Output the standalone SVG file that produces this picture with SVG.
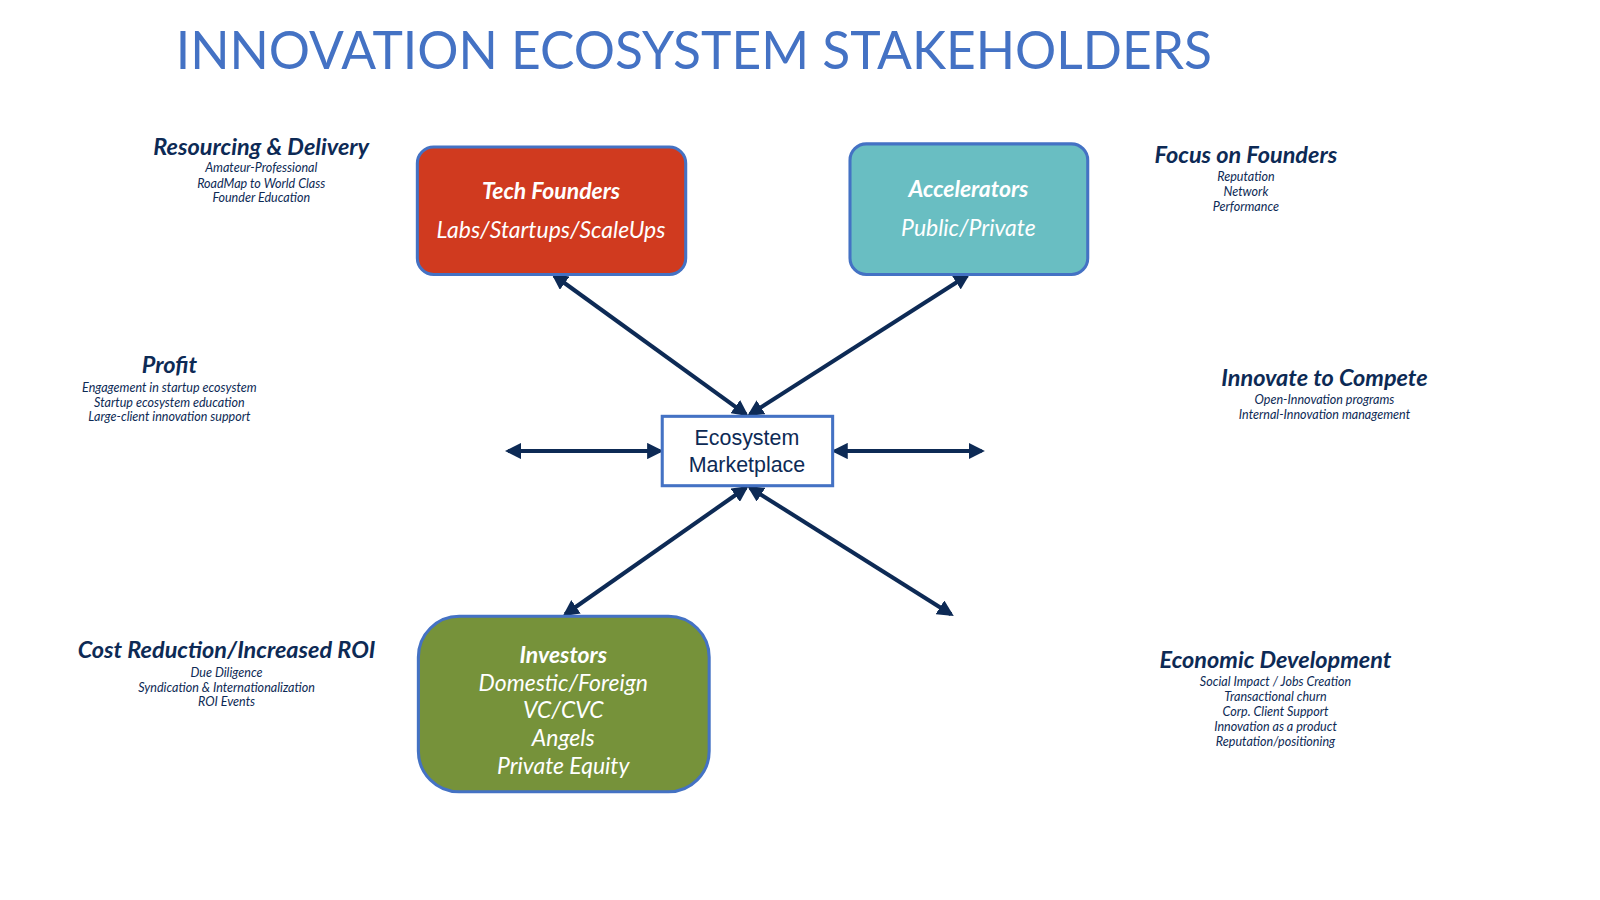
<svg xmlns="http://www.w3.org/2000/svg" width="1600" height="900" viewBox="0 0 1600 900">
<style>
.h{font-family:Lato,"Open Sans",sans-serif;font-style:italic;font-weight:bold;fill:#0d2a55;text-anchor:middle;font-size:23px}
.s{font-family:Lato,"Open Sans",sans-serif;font-style:italic;fill:#0d2a55;text-anchor:middle;font-size:12.3px}
.w{font-family:Lato,"Open Sans",sans-serif;font-style:italic;fill:#fff;text-anchor:middle;font-size:22.5px}
.box{stroke:#4472c4;stroke-width:3}
.c{stroke:#0d2a55;stroke-width:4;fill:none;marker-start:url(#a);marker-end:url(#a)}
</style>
<defs><marker id="a" viewBox="0 0 10 10" refX="8" refY="5" markerWidth="4" markerHeight="4" orient="auto-start-reverse"><path d="M0,0L10,5L0,10z" fill="#0d2a55"/></marker></defs>
<rect width="1600" height="900" fill="#fff"/>
<g transform="scale(1.0204)">
<text x="680" y="68" font-family="Lato,'Open Sans',sans-serif" font-size="50.5" fill="#4472c4" text-anchor="middle">INNOVATION ECOSYSTEM STAKEHOLDERS</text>
<g id="connectors">
<line class="c" x1="543" y1="270" x2="731" y2="406"/>
<line class="c" x1="948" y1="270" x2="735" y2="406"/>
<line class="c" x1="498" y1="442" x2="647" y2="442"/>
<line class="c" x1="818" y1="442" x2="962" y2="442"/>
<line class="c" x1="731" y1="478" x2="554" y2="602"/>
<line class="c" x1="735" y1="478" x2="932" y2="602"/>
</g>
<g id="tech"><rect class="box" x="409" y="144" width="263" height="125" rx="16" fill="#d03a1f"/>
<text class="w" x="540" y="195" font-weight="bold" font-size="21">Tech Founders</text><text class="w" x="540" y="233">Labs/Startups/ScaleUps</text></g>
<g id="acc"><rect class="box" x="833" y="141" width="233" height="128" rx="16" fill="#69bec2"/>
<text class="w" x="949" y="193" font-weight="bold" font-size="21">Accelerators</text><text class="w" x="949" y="231">Public/Private</text></g>
<g id="inv"><rect class="box" x="410" y="604" width="285" height="172" rx="40" fill="#76923a"/>
<text class="w" x="552" y="650" font-weight="bold" font-size="21">Investors</text>
<text class="w" x="552" y="677">Domestic/Foreign</text><text class="w" x="552" y="704">VC/CVC</text><text class="w" x="552" y="731">Angels</text><text class="w" x="552" y="759">Private Equity</text></g>
<g id="market"><rect class="box" x="649" y="408" width="167" height="68" fill="#fff"/>
<text x="732" y="436" font-family="'Liberation Sans',Arial,sans-serif" font-size="21" fill="#0d2a55" text-anchor="middle">Ecosystem</text>
<text x="732" y="463" font-family="'Liberation Sans',Arial,sans-serif" font-size="21" fill="#0d2a55" text-anchor="middle">Marketplace</text></g>
<g id="resourcing"><text class="h" x="256" y="152">Resourcing &amp; Delivery</text><text class="s" x="256" y="169">Amateur-Professional</text><text class="s" x="256" y="184">RoadMap to World Class</text><text class="s" x="256" y="198">Founder Education</text></g>
<g id="profit"><text class="h" x="166" y="366">Profit</text><text class="s" x="166" y="384">Engagement in startup ecosystem</text><text class="s" x="166" y="399">Startup ecosystem education</text><text class="s" x="166" y="413">Large-client innovation support</text></g>
<g id="cost"><text class="h" x="222" y="645">Cost Reduction/Increased ROI</text><text class="s" x="222" y="663">Due Diligence</text><text class="s" x="222" y="678">Syndication &amp; Internationalization</text><text class="s" x="222" y="692">ROI Events</text></g>
<g id="focus"><text class="h" x="1221" y="160">Focus on Founders</text><text class="s" x="1221" y="177">Reputation</text><text class="s" x="1221" y="192">Network</text><text class="s" x="1221" y="207">Performance</text></g>
<g id="compete"><text class="h" x="1298" y="378">Innovate to Compete</text><text class="s" x="1298" y="396">Open-Innovation programs</text><text class="s" x="1298" y="411">Internal-Innovation management</text></g>
<g id="econ"><text class="h" x="1250" y="655">Economic Development</text><text class="s" x="1250" y="672">Social Impact / Jobs Creation</text><text class="s" x="1250" y="687">Transactional churn</text><text class="s" x="1250" y="702">Corp. Client Support</text><text class="s" x="1250" y="716">Innovation as a product</text><text class="s" x="1250" y="731">Reputation/positioning</text></g>
</g>
</svg>
